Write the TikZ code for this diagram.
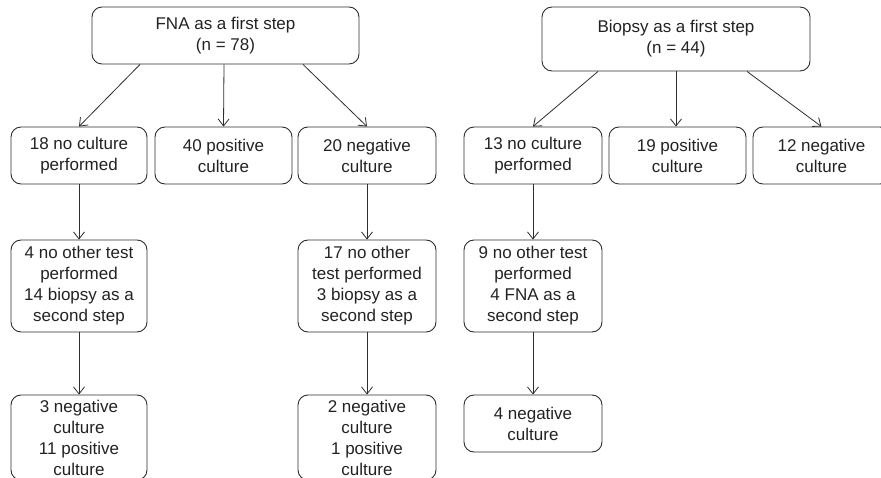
\documentclass[tikz,border=0pt]{standalone}
\usepackage{fontspec}
\setmainfont{Liberation Sans}
\usetikzlibrary{arrows.meta}
\definecolor{linegray}{HTML}{2E2E2E}
\definecolor{txtgray}{HTML}{222222}
\tikzset{
  box/.style={draw=linegray, line width=0.9pt, rounded corners=10pt, align=center,
    inner sep=0pt, text=txtgray, font=\fontsize{17}{21}\selectfont, minimum height=57pt},
  arr/.style={draw=linegray, line width=0.8pt, -{Straight Barb[length=7pt,width=11pt]}}
}
\begin{document}
\begin{tikzpicture}[x=1pt,y=-1pt]
\useasboundingbox (0,0) rectangle (881,478);
% left group
\node[box, minimum width=267pt] (fna) at (225.5,35.5) {FNA as a first step\\(n = 78)};
\node[box, minimum width=136pt] (a1) at (79,155.5) {18 no culture\\performed};
\node[box, minimum width=137pt] (a2) at (223.5,155.5) {40 positive\\culture};
\node[box, minimum width=138pt] (a3) at (367,155.5) {20 negative\\culture};
\node[box, minimum width=136pt, minimum height=92pt] (a1b) at (79,286) {4 no other test\\performed\\14 biopsy as a\\second step};
\node[box, minimum width=138pt, minimum height=92pt] (a3b) at (367,286) {17 no other\\test performed\\3 biopsy as a\\second step};
\node[box, minimum width=136pt, minimum height=85pt] (a1c) at (79,437.5) {3 negative\\culture\\11 positive\\culture};
\node[box, minimum width=138pt, minimum height=85pt] (a3c) at (367,437.5) {2 negative\\culture\\1 positive\\culture};
% right group
\node[box, minimum width=268pt, minimum height=64pt] (bio) at (676,39) {Biopsy as a first step\\(n = 44)};
\node[box, minimum width=138pt] (b1) at (533,155.5) {13 no culture\\performed};
\node[box, minimum width=137pt] (b2) at (677.5,155.5) {19 positive\\culture};
\node[box, minimum width=137pt] (b3) at (821.5,155.5) {12 negative\\culture};
\node[box, minimum width=138pt, minimum height=92pt] (b1b) at (533,286) {9 no other test\\performed\\4 FNA as a\\second step};
\node[box, minimum width=138pt] (b1c) at (533,423.5) {4 negative\\culture};
% connectors
\draw[arr] ([xshift=-85.5pt]fna.south) -- (a1.north);
\draw[arr] ([xshift=-1.5pt]fna.south) -- (a2.north);
\draw[arr] ([xshift=77.5pt]fna.south) -- (a3.north);
\draw[arr] (a1.south) -- (a1b.north);
\draw[arr] (a1b.south) -- (a1c.north);
\draw[arr] (a3.south) -- (a3b.north);
\draw[arr] (a3b.south) -- (a3c.north);
\draw[arr] ([xshift=-78pt]bio.south) -- (b1.north);
\draw[arr] (bio.south) -- ([xshift=-1.5pt]b2.north);
\draw[arr] ([xshift=71pt]bio.south) -- (b3.north);
\draw[arr] (b1.south) -- (b1b.north);
\draw[arr] (b1b.south) -- (b1c.north);
\end{tikzpicture}
\end{document}
